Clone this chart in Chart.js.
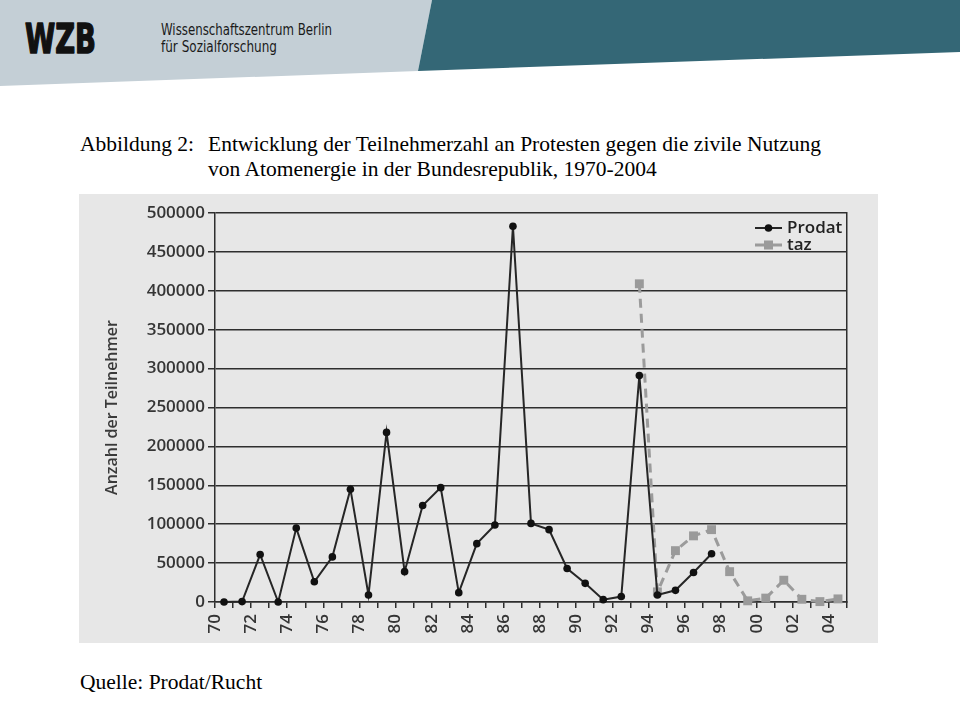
<!DOCTYPE html>
<html lang="de">
<head>
<meta charset="utf-8">
<title>Teilnehmerzahl an Protesten gegen Atomenergie 1970-2004</title>
<script src="https://cdn.jsdelivr.net/npm/chart.js@4.4.1/dist/chart.umd.min.js"></script>
<style>
    html, body { margin: 0; padding: 0; background: #fff; }
    #page { position: relative; width: 960px; height: 720px; overflow: hidden; }
    #deko { position: absolute; left: 0; top: 0; }
    #chartBox { position: absolute; left: 79px; top: 194px; width: 799px; height: 449px; background: #e7e7e7; }
</style>
</head>
<body>
<div id="page">
    <svg id="deko" width="960" height="720">
        <!-- Kopfleiste WZB -->
        <polygon points="0,0 432,0 418,71 0,86" fill="#c4cfd6"/>
        <polygon points="432,0 960,0 960,52 418,71" fill="#346776"/>
        <text x="25" y="53" font-family="DejaVu Sans" font-weight="bold" font-size="40" fill="#111"
              stroke="#111" stroke-width="1.6" stroke-linejoin="round"
              textLength="71" lengthAdjust="spacingAndGlyphs">WZB</text>
        <text x="161" y="35" font-family="Liberation Sans Narrow, DejaVu Sans Condensed, sans-serif" font-size="15" fill="#1a1a1a"
              textLength="171" lengthAdjust="spacingAndGlyphs">Wissenschaftszentrum Berlin</text>
        <text x="161" y="51.5" font-family="Liberation Sans Narrow, DejaVu Sans Condensed, sans-serif" font-size="15" fill="#1a1a1a"
              textLength="116" lengthAdjust="spacingAndGlyphs">für Sozialforschung</text>

        <!-- Abbildungstitel -->
        <g font-family="Liberation Serif, Times New Roman, serif" font-size="21.5" fill="#000">
            <text x="80" y="151">Abbildung 2:</text>
            <text x="208" y="151">Entwicklung der Teilnehmerzahl an Protesten gegen die zivile Nutzung</text>
            <text x="208" y="176">von Atomenergie in der Bundesrepublik, 1970-2004</text>
            <text x="80" y="689">Quelle: Prodat/Rucht</text>
        </g>
    </svg>
    <div id="chartBox"><canvas id="chart"></canvas></div>
</div>

<script>
    // Daten
    const jahreProdat = [1970, 1971, 1972, 1973, 1974, 1975, 1976, 1977, 1978, 1979,
                         1980, 1981, 1982, 1983, 1984, 1985, 1986, 1987, 1988, 1989,
                         1990, 1991, 1992, 1993, 1994, 1995, 1996, 1997];
    const werteProdat = [0, 500, 61000, 0, 95000, 26000, 58000, 145000, 9000, 218000,
                         39000, 124000, 147000, 12000, 75000, 99000, 483000, 101000, 93000, 43000,
                         24000, 3000, 7000, 291000, 9000, 15000, 38000, 62000];

    const jahreTaz = [1993, 1994, 1995, 1996, 1997, 1998, 1999, 2000, 2001, 2002, 2003, 2004];
    const werteTaz = [409000, 13000, 66000, 85000, 93000, 39000, 1500, 5000, 28000, 3500, 500, 4000];

    const achsenStart = 1970;
    const achsenEnde = 2005;
    const yMax = 500000;
    const ySchritt = 50000;

    const FARBE_ACHSE = '#2e2e2e';
    const FARBE_TEXT = '#353535';
    const SCHRIFT = 'Open Sans';

    // Punkte sitzen jeweils mittig zwischen zwei Jahresstrichen
    function punkte(jahre, werte) {
        return jahre.map((j, i) => ({ x: j + 0.5, y: werte[i] }));
    }

    // Legende innerhalb der Zeichenfläche (oben rechts), Linie mit Marker
    const legendeImDiagramm = {
        id: 'legendeImDiagramm',
        afterDatasetsDraw(chart) {
            const { ctx, chartArea } = chart;
            ctx.save();
            chart.data.datasets.forEach((ds, i) => {
                const y = chartArea.top + 15 + i * 17;
                const x0 = chartArea.right - 92;
                const x1 = chartArea.right - 65;
                const xm = (x0 + x1) / 2;

                ctx.setLineDash([]);
                ctx.strokeStyle = ds.borderColor;
                ctx.lineWidth = ds.borderWidth;
                ctx.beginPath();
                ctx.moveTo(x0, y);
                ctx.lineTo(x1, y);
                ctx.stroke();

                ctx.fillStyle = ds.pointBackgroundColor;
                if (ds.pointStyle === 'rect') {
                    ctx.fillRect(xm - 4.5, y - 4.5, 9, 9);
                } else {
                    ctx.beginPath();
                    ctx.arc(xm, y, 3.8, 0, Math.PI * 2);
                    ctx.fill();
                }

                ctx.fillStyle = '#222';
                ctx.font = '600 17px "' + SCHRIFT + '"';
                ctx.textBaseline = 'middle';
                ctx.textAlign = 'left';
                ctx.fillText(ds.label, chartArea.right - 60, y);
            });
            ctx.restore();
        }
    };

    const tickSchrift = { family: SCHRIFT, size: 17, weight: '600' };

    new Chart(document.getElementById('chart').getContext('2d'), {
        type: 'line',
        data: {
            datasets: [{
                label: 'Prodat',
                data: punkte(jahreProdat, werteProdat),
                borderColor: '#262626',
                borderWidth: 2,
                pointRadius: 3.8,
                pointBackgroundColor: '#111',
                pointBorderWidth: 0,
                tension: 0,
                clip: false
            }, {
                label: 'taz',
                data: punkte(jahreTaz, werteTaz),
                borderColor: '#9b9b9b',
                borderWidth: 3,
                borderDash: [9, 6],
                pointStyle: 'rect',
                pointRadius: 6.3,
                pointBackgroundColor: '#9a9a9a',
                pointBorderWidth: 0,
                tension: 0,
                clip: false
            }]
        },
        options: {
            responsive: true,
            maintainAspectRatio: false,
            animation: false,
            layout: {
                padding: { left: 0, right: 31, top: 19, bottom: 0 }
            },
            plugins: {
                legend: { display: false },
                tooltip: { enabled: false }
            },
            scales: {
                x: {
                    type: 'linear',
                    min: achsenStart,
                    max: achsenEnde,
                    ticks: {
                        stepSize: 1,
                        autoSkip: false,
                        minRotation: 90,
                        maxRotation: 90,
                        padding: 6,
                        color: FARBE_TEXT,
                        font: tickSchrift,
                        callback: function(value) {
                            if (value % 2 === 0 && value < achsenEnde) {
                                return String(value % 100).padStart(2, '0');
                            }
                            return '';
                        }
                    },
                    grid: {
                        drawOnChartArea: false,
                        drawTicks: true,
                        tickLength: 6,
                        color: FARBE_ACHSE,
                        lineWidth: 1.5
                    },
                    border: { display: true, color: FARBE_ACHSE, width: 1.5 },
                    afterFit: function(scale) { scale.height = 41; }
                },
                y: {
                    min: 0,
                    max: yMax,
                    ticks: {
                        stepSize: ySchritt,
                        padding: 3,
                        color: FARBE_TEXT,
                        font: tickSchrift,
                        callback: function(value) { return String(value); }
                    },
                    grid: {
                        color: FARBE_ACHSE,
                        lineWidth: 1.5,
                        tickLength: 7
                    },
                    border: { display: true, color: FARBE_ACHSE, width: 1.5 },
                    title: {
                        display: true,
                        text: 'Anzahl der Teilnehmer',
                        color: '#3a3a3a',
                        font: { family: SCHRIFT, size: 16, weight: '600' },
                        padding: { top: 24, bottom: 0 }
                    },
                    afterFit: function(scale) { scale.width = 136; }
                },
                rechts: {
                    position: 'right',
                    grid: { display: false, drawTicks: false },
                    ticks: { display: false },
                    border: { display: true, color: FARBE_ACHSE, width: 1.5 },
                    afterFit: function(scale) { scale.width = 0; }
                }
            }
        },
        plugins: [legendeImDiagramm]
    });
</script>
</body>
</html>
